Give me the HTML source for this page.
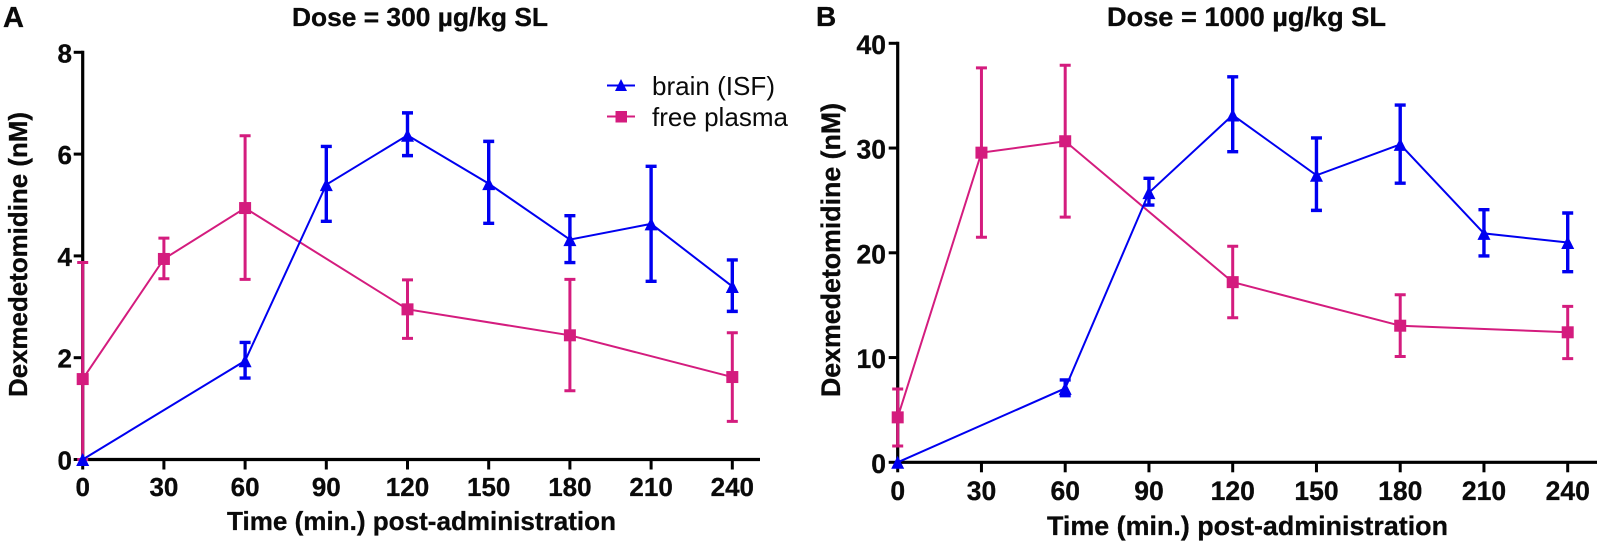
<!DOCTYPE html>
<html lang="en">
<head>
<meta charset="utf-8">
<title>Dexmedetomidine concentration over time</title>
<style>
html,body{margin:0;padding:0;background:#fff;width:1600px;height:545px;overflow:hidden}
svg{display:block;filter:blur(0.35px)}
text{font-family:"Liberation Sans",sans-serif;fill:#0a0a0a}
.b{font-weight:bold;stroke:#0a0a0a;stroke-width:0.3px}
</style>
</head>
<body>
<svg id="chart" xmlns="http://www.w3.org/2000/svg" width="1600" height="545" viewBox="0 0 1600 545">
  <text class="b" x="3" y="27" font-size="29">A</text>
  <text class="b" x="816" y="26" font-size="28">B</text>
  <text class="b" x="292" y="26" font-size="26" textLength="256" lengthAdjust="spacingAndGlyphs">Dose = 300 µg/kg SL</text>
  <text class="b" x="1107" y="26" font-size="27" textLength="279" lengthAdjust="spacingAndGlyphs">Dose = 1000 µg/kg SL</text>
  <text class="b" transform="translate(27 397) rotate(-90)" font-size="26" textLength="285" lengthAdjust="spacingAndGlyphs">Dexmedetomidine (nM)</text>
  <text class="b" transform="translate(840 397) rotate(-90)" font-size="26.7" textLength="294" lengthAdjust="spacingAndGlyphs">Dexmedetomidine (nM)</text>
  <text class="b" x="227" y="530" font-size="26" textLength="389" lengthAdjust="spacingAndGlyphs">Time (min.) post-administration</text>
  <text class="b" x="1047" y="535" font-size="26.8" textLength="401" lengthAdjust="spacingAndGlyphs">Time (min.) post-administration</text>
  <g id="panel-a"></g>
  <g id="panel-b"></g>
  <g>
    <g>
      <line x1="607" x2="635" y1="85.5" y2="85.5" stroke="#0000f0" stroke-width="2"/>
      <polygon points="621,79 627,91 615,91" fill="#0000f0"/>
      <text x="652" y="95" font-size="26" textLength="123" lengthAdjust="spacingAndGlyphs">brain (ISF)</text>
    </g>
    <g>
      <line x1="607" x2="635" y1="116.5" y2="116.5" stroke="#d41c7e" stroke-width="2"/>
      <rect x="615.5" y="111" width="11.5" height="11.5" fill="#d41c7e"/>
      <text x="652" y="126" font-size="26" textLength="136" lengthAdjust="spacingAndGlyphs">free plasma</text>
    </g>
  </g>
</svg>
<script>
const xTickLabels = [0, 30, 60, 90, 120, 150, 180, 210, 240];
const yTicksA = [0, 2, 4, 6, 8];
const yTicksB = [0, 10, 20, 30, 40];

const brainTimes = [0, 60, 90, 120, 150, 180, 210, 240];
const plasmaTimes = [0, 30, 60, 120, 180, 240];

const brainMeanA = [0, 1.94, 5.40, 6.37, 5.42, 4.32, 4.63, 3.40];
const brainUpperA = [0, 2.30, 6.15, 6.81, 6.25, 4.79, 5.76, 3.92];
const brainLowerA = [0, 1.60, 4.68, 5.97, 4.64, 3.87, 3.50, 2.91];
const plasmaMeanA = [1.58, 3.94, 4.94, 2.95, 2.44, 1.62];
const plasmaUpperA = [3.87, 4.35, 6.36, 3.53, 3.54, 2.49];
const plasmaLowerA = [0, 3.55, 3.54, 2.38, 1.35, 0.75];

const brainMeanB = [0, 7.06, 25.74, 33.15, 27.4, 30.35, 21.85, 20.98];
const brainUpperB = [0, 7.86, 27.11, 36.8, 30.97, 34.1, 24.12, 23.8];
const brainLowerB = [0, 6.36, 24.56, 29.65, 24.05, 26.65, 19.7, 18.2];
const plasmaMeanB = [4.29, 29.56, 30.65, 17.2, 13.04, 12.41];
const plasmaUpperB = [7.0, 37.65, 37.9, 20.62, 16.0, 14.89];
const plasmaLowerB = [1.56, 21.48, 23.4, 13.8, 10.1, 9.9];

const NS = 'http://www.w3.org/2000/svg';
const BLUE = '#0000f0';
const PINK = '#d41c7e';

function make(parent, tag, attrs) {
  const el = document.createElementNS(NS, tag);
  for (const k in attrs) el.setAttribute(k, attrs[k]);
  parent.appendChild(el);
  return el;
}

function drawSeries(g, key, color, times, mean, upper, lower, x, y) {
  const pts = times.map((t, i) => x(t) + ',' + y(mean[i])).join(' ');
  const line = make(g, 'polyline', {points: pts, fill: 'none', stroke: color, 'stroke-width': 2});
  
  
  times.forEach((t, i) => {
    if (upper[i] === lower[i]) return;
    const cx = x(t), top = y(upper[i]), bot = y(lower[i]);
    const bar = make(g, 'path', {
      d: 'M' + (cx - 5.5) + ' ' + top + 'H' + (cx + 5.5) + 'M' + cx + ' ' + top + 'V' + bot + 'M' + (cx - 5.5) + ' ' + bot + 'H' + (cx + 5.5),
      fill: 'none', stroke: color, 'stroke-width': color === BLUE ? 3.4 : 3
    });
    
    
  });
  times.forEach((t, i) => {
    const cx = x(t), cy = y(mean[i]);
    let m;
    if (color === BLUE) {
      m = make(g, 'polygon', {points: cx + ',' + (cy - 6.5) + ' ' + (cx + 6.5) + ',' + (cy + 6.5) + ' ' + (cx - 6.5) + ',' + (cy + 6.5), fill: color});
    } else {
      m = make(g, 'rect', {x: cx - 6, y: cy - 6, width: 12, height: 12, fill: color});
    }
    
    
  });
}

function drawPanel(cfg) {
  const g = document.getElementById(cfg.id);
  const x = t => cfg.x0 + t * cfg.xScale;
  const y = v => cfg.y0 - v * cfg.yScale;
  const yMax = cfg.yTicks[cfg.yTicks.length - 1];

  const yAxis = make(g, 'line', {x1: cfg.x0, x2: cfg.x0, y1: y(yMax) - 1.5, y2: cfg.y0 + 1.5, stroke: '#000', 'stroke-width': 3.2});
  
  
  const xAxis = make(g, 'line', {x1: cfg.x0, x2: cfg.xEnd, y1: cfg.y0, y2: cfg.y0, stroke: '#000', 'stroke-width': 3.2});
  
  

  cfg.yTicks.forEach(v => {
    const tick = make(g, 'line', {x1: cfg.x0 - 9, x2: cfg.x0, y1: y(v), y2: y(v), stroke: '#000', 'stroke-width': 3});
    
    
    const label = make(g, 'text', {x: cfg.yLabelX, y: y(v) + cfg.yLabelDy, 'text-anchor': 'end', 'font-size': cfg.font, class: 'b'});
    label.textContent = v;
    
    
  });

  xTickLabels.forEach(t => {
    const tick = make(g, 'line', {x1: x(t), x2: x(t), y1: cfg.y0, y2: cfg.y0 + 10, stroke: '#000', 'stroke-width': 3});
    
    
    const label = make(g, 'text', {x: x(t), y: cfg.xLabelY, 'text-anchor': 'middle', 'font-size': cfg.font, class: 'b'});
    label.textContent = t;
    
    
  });

  drawSeries(g, cfg.key + '-plasma', PINK, plasmaTimes, cfg.plasma[0], cfg.plasma[1], cfg.plasma[2], x, y);
  drawSeries(g, cfg.key + '-brain', BLUE, brainTimes, cfg.brain[0], cfg.brain[1], cfg.brain[2], x, y);
}

drawPanel({
  id: 'panel-a', key: 'panel-a', x0: 82.7, xScale: 2.7067, xEnd: 760, y0: 459.5, yScale: 50.9,
  yTicks: yTicksA, yLabelX: 72, yLabelDy: 10, xLabelY: 496, font: 26,
  brain: [brainMeanA, brainUpperA, brainLowerA],
  plasma: [plasmaMeanA, plasmaUpperA, plasmaLowerA]
});
drawPanel({
  id: 'panel-b', key: 'panel-b', x0: 897.7, xScale: 2.7917, xEnd: 1597, y0: 462.3, yScale: 10.475,
  yTicks: yTicksB, yLabelX: 886, yLabelDy: 10.5, xLabelY: 500, font: 26.5,
  brain: [brainMeanB, brainUpperB, brainLowerB],
  plasma: [plasmaMeanB, plasmaUpperB, plasmaLowerB]
});
</script>
</body>
</html>
